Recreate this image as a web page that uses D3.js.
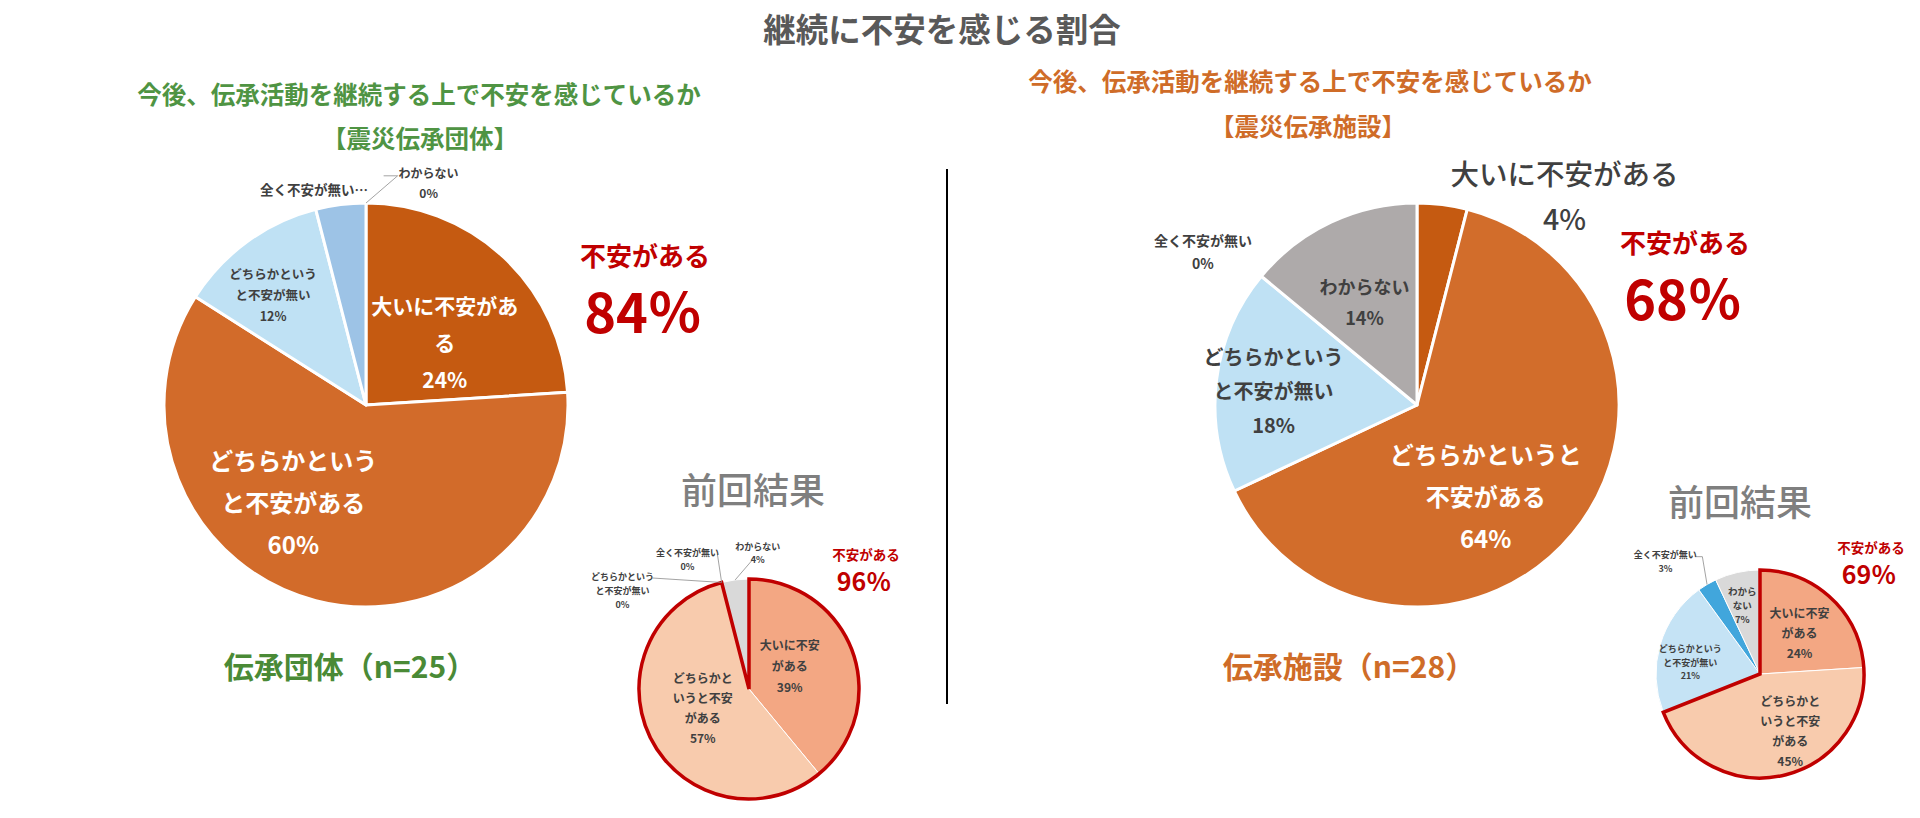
<!DOCTYPE html>
<html lang="ja">
<head>
<meta charset="utf-8">
<script src="https://cdn.jsdelivr.net/npm/d3@7"></script>
<style>
  html, body { margin: 0; padding: 0; background: #fff; }
  svg text { font-family: "Noto Sans CJK JP", "Noto Sans", sans-serif; }
</style>
</head>
<body>
<div id="chart"></div>
<script>
// answer categories, same order in every pie (clockwise from 12 o'clock)
const categories = [
  "大いに不安がある",
  "どちらかというと不安がある",
  "どちらかというと不安が無い",
  "全く不安が無い",
  "わからない",
];

// shares in %
const groupNow = [24, 60, 12, 4, 0];
const groupPrev = [39, 57, 0, 0, 4];
const facilityNow = [4, 64, 18, 0, 14];
const facilityPrev = [24, 45, 21, 3, 7];

const sampleSizes = [25, 28];
const groupNames = ["伝承団体", "伝承施設"];

const chartTitle = "継続に不安を感じる割合";
const question = "今後、伝承活動を継続する上で不安を感じているか";
const subTitles = ["【震災伝承団体】", "【震災伝承施設】"];
const prevTitle = "前回結果";
const concernText = "不安がある";

const width = 1920;
const height = 818;
const red = "#c00000";
const green = "#4f9443";
const orange = "#cf6c28";
const dark = "#404040";

const svg = d3
  .select("#chart")
  .append("svg")
  .attr("width", width)
  .attr("height", height);

// layout of each pie: where it sits and how its labels are placed
// label pos is relative to the pie centre, in units of radius
const pies = [
  {
    values: groupNow,
    cx: 366, cy: 405, r: 202,
    colors: ["#c55a11", "#d26b2a", "#bfe1f4", "#9dc3e6", "#bfbfbf"],
    sep: 3,
    labels: [
      { lines: ["大いに不安があ", "る"], pos: [0.39, -0.31], size: 21, lh: 37, fill: "#fff" },
      { lines: ["どちらかという", "と不安がある"], pos: [-0.36, 0.48], size: 24, lh: 42, fill: "#fff" },
      { lines: ["どちらかという", "と不安が無い"], pos: [-0.46, -0.545], size: 12.5, lh: 21 },
      { lines: ["全く不安が無い…"], pos: [0.01, -1.07], size: 13.5, lh: 20, anchor: "end", noPct: true },
      { lines: ["わからない"], pos: [0.31, -1.1], size: 12, lh: 20, leader: [[-45, -7], [-31, -7]] },
    ],
  },
  {
    values: groupPrev,
    cx: 749, cy: 689, r: 110,
    colors: ["#f3a783", "#f8cbad", "#c5e3f5", "#41a6dc", "#d9d9d9"],
    sep: 1,
    outline: 2,
    labels: [
      { lines: ["大いに不安", "がある"], pos: [0.37, -0.21], size: 12, lh: 21 },
      { lines: ["どちらかと", "いうと不安", "がある"], pos: [-0.42, 0.17], size: 12, lh: 20 },
      { lines: ["どちらかという", "と不安が無い"], pos: [-1.15, -0.9], size: 9, lh: 14, leader: [[30, -12]] },
      { lines: ["全く不安が無い"], pos: [-0.56, -1.18], size: 9, lh: 14, leader: [[30, -5]] },
      { lines: ["わからない"], pos: [0.08, -1.24], size: 9, lh: 13, leader: [[-6, 8]] },
    ],
  },
  {
    values: facilityNow,
    cx: 1417, cy: 405, r: 202,
    colors: ["#c55a11", "#d26d2b", "#bfe1f4", "#9dc3e6", "#aeaaaa"],
    sep: 3,
    labels: [
      { lines: ["大いに不安がある"], pos: [0.73, -1.04], size: 28.5, lh: 45, weight: 500 },
      { lines: ["どちらかというと", "不安がある"], pos: [0.34, 0.45], size: 24, lh: 42, fill: "#fff" },
      { lines: ["どちらかという", "と不安が無い"], pos: [-0.71, -0.07], size: 20, lh: 34 },
      { lines: ["全く不安が無い"], pos: [-1.06, -0.76], size: 14, lh: 23 },
      { lines: ["わからない"], pos: [-0.26, -0.51], size: 18, lh: 31 },
    ],
  },
  {
    values: facilityPrev,
    cx: 1760, cy: 674, r: 104,
    colors: ["#f3a783", "#f8cbad", "#c5e3f5", "#41a6dc", "#d9d9d9"],
    sep: 1,
    outline: 2,
    labels: [
      { lines: ["大いに不安", "がある"], pos: [0.38, -0.4], size: 12, lh: 20 },
      { lines: ["どちらかと", "いうと不安", "がある"], pos: [0.29, 0.54], size: 12, lh: 20 },
      { lines: ["どちらかという", "と不安が無い"], pos: [-0.67, -0.115], size: 9, lh: 13.5 },
      { lines: ["全く不安が無い"], pos: [-0.91, -1.08], size: 9, lh: 14, leader: [[30, -5], [37, -5]] },
      { lines: ["わから", "ない"], pos: [-0.17, -0.66], size: 9.5, lh: 14 },
    ],
  },
];

// "不安がある" totals next to each pie
const totals = [
  { pie: 0, x: 645, y: 254, size: 26, bigY: 309, bigSize: 54 },
  { pie: 1, x: 866, y: 554, size: 13.5, bigY: 580, bigSize: 25 },
  { pie: 2, x: 1685, y: 241, size: 26, bigY: 296, bigSize: 54 },
  { pie: 3, x: 1871, y: 547, size: 13.5, bigY: 573, bigSize: 25 },
];

const pieLayout = d3.pie().sort(null).value((d) => d);

const drawPie = (p) => {
  const arcs = pieLayout(p.values);
  const arc = d3.arc().innerRadius(0).outerRadius(p.r);
  const edge = d3.arc().innerRadius(p.r).outerRadius(p.r);
  const g = svg.append("g").attr("transform", `translate(${p.cx},${p.cy})`);

  g.selectAll("path.slice")
    .data(arcs)
    .enter()
    .append("path")
    .attr("class", "slice")
    .attr("d", arc)
    .attr("fill", (d, i) => p.colors[i])
    .attr("stroke", (d) => (d.value > 0 ? "#fff" : "none"))
    .attr("stroke-width", p.sep)
    .attr("stroke-linejoin", "round");

  // red frame round the "anxious" share
  if (p.outline) {
    g.append("path")
      .attr(
        "d",
        arc({ startAngle: arcs[0].startAngle, endAngle: arcs[p.outline - 1].endAngle })
      )
      .attr("fill", "none")
      .attr("stroke", red)
      .attr("stroke-width", 3.5)
      .attr("stroke-linejoin", "miter");
  }

  p.labels.forEach((lab, i) => {
    const d = arcs[i];
    const lx = lab.pos[0] * p.r;
    const ly = lab.pos[1] * p.r;
    const lines = lab.noPct ? lab.lines : lab.lines.concat([`${p.values[i]}%`]);

    if (lab.leader) {
      const mid = (d.startAngle + d.endAngle) / 2;
      const e = edge.centroid({ startAngle: mid, endAngle: mid });
      const pts = lab.leader.map((o) => [lx + o[0], ly + o[1]]);
      pts.push(e);
      g.append("path")
        .attr("d", d3.line()(pts))
        .attr("fill", "none")
        .attr("stroke", "#8c8c8c")
        .attr("stroke-width", 0.8);
    }

    const t = g
      .append("text")
      .attr("text-anchor", lab.anchor || "middle")
      .attr("font-size", lab.size)
      .attr("font-weight", lab.weight || 700)
      .attr("fill", lab.fill || dark);
    lines.forEach((s, k) => {
      t.append("tspan")
        .attr("x", lx)
        .attr("y", ly + (k - (lines.length - 1) / 2) * lab.lh)
        .attr("dominant-baseline", "central")
        .text(s);
    });
  });
};

pies.forEach(drawPie);

totals.forEach((t) => {
  const share = d3.sum(pies[t.pie].values.slice(0, 2));
  svg.append("text")
    .attr("x", t.x).attr("y", t.y)
    .attr("text-anchor", "middle").attr("dominant-baseline", "central")
    .attr("font-size", t.size).attr("font-weight", 700)
    .attr("fill", red)
    .text(concernText);
  svg.append("text")
    .attr("x", t.x - 2).attr("y", t.bigY)
    .attr("text-anchor", "middle").attr("dominant-baseline", "central")
    .attr("font-size", t.bigSize).attr("font-weight", 700)
    .attr("fill", red)
    .text(`${share}％`);
});

// titles
svg.append("text")
  .attr("x", 942).attr("y", 27)
  .attr("text-anchor", "middle").attr("dominant-baseline", "central")
  .attr("font-size", 32.5).attr("font-weight", 700)
  .attr("fill", "#595959")
  .text(chartTitle);

const heads = [
  { x: 419, x2: 420, y: 93, y2: 137, color: green },
  { x: 1310, x2: 1308, y: 80, y2: 125, color: orange },
];
heads.forEach((h, i) => {
  svg.append("text")
    .attr("x", h.x).attr("y", h.y)
    .attr("text-anchor", "middle").attr("dominant-baseline", "central")
    .attr("font-size", 24.5).attr("font-weight", 700)
    .attr("fill", h.color)
    .text(question);
  svg.append("text")
    .attr("x", h.x2).attr("y", h.y2)
    .attr("text-anchor", "middle").attr("dominant-baseline", "central")
    .attr("font-size", 24.5).attr("font-weight", 700)
    .attr("fill", h.color)
    .text(subTitles[i]);
});

// "前回結果" headings
[[753, 488], [1740, 500]].forEach((p) => {
  svg.append("text")
    .attr("x", p[0]).attr("y", p[1])
    .attr("text-anchor", "middle").attr("dominant-baseline", "central")
    .attr("font-size", 36).attr("font-weight", 500)
    .attr("fill", "#7f7f7f")
    .text(prevTitle);
});

// sample size captions
[[350, "#4a8a36"], [1349, orange]].forEach((c, i) => {
  svg.append("text")
    .attr("x", c[0]).attr("y", 665)
    .attr("text-anchor", "middle").attr("dominant-baseline", "central")
    .attr("font-size", 30).attr("font-weight", 700)
    .attr("fill", c[1])
    .text(`${groupNames[i]}（n=${sampleSizes[i]}）`);
});

// divider between the two halves
svg.append("line")
  .attr("x1", 947).attr("x2", 947)
  .attr("y1", 169).attr("y2", 704)
  .attr("stroke", "#000")
  .attr("stroke-width", 2);
</script>
</body>
</html>
